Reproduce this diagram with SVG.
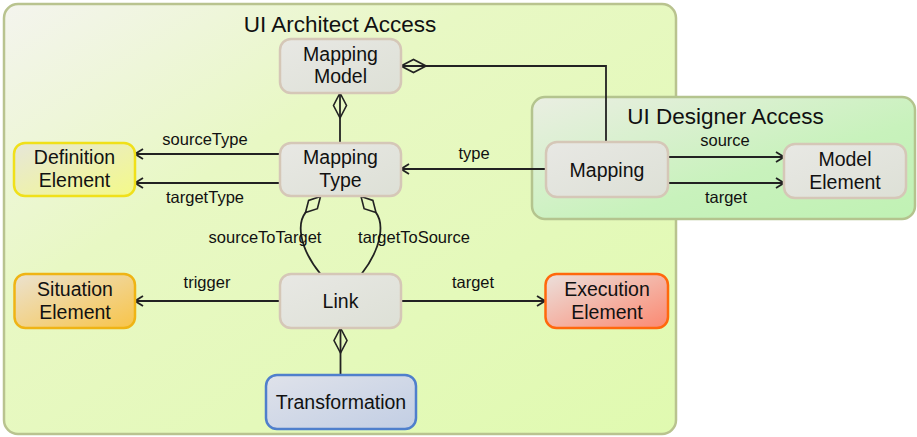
<svg xmlns="http://www.w3.org/2000/svg" width="917" height="437" viewBox="0 0 917 437">
<defs>
<linearGradient id="gOuter" x1="0" y1="0" x2="1" y2="1"><stop offset="0" stop-color="#f4f4ee"/><stop offset="0.35" stop-color="#e8f8c4"/><stop offset="1" stop-color="#e0fab0"/></linearGradient>
<linearGradient id="gDesigner" x1="0" y1="0" x2="1" y2="1"><stop offset="0" stop-color="#eaeee2"/><stop offset="0.6" stop-color="#c8f2bc"/><stop offset="1" stop-color="#c0f2b4"/></linearGradient>
<linearGradient id="gGray" x1="0" y1="0" x2="1" y2="1"><stop offset="0" stop-color="#e8e8e4"/><stop offset="1" stop-color="#dde0d6"/></linearGradient>
<linearGradient id="gYellow" x1="0" y1="0" x2="1" y2="1"><stop offset="0" stop-color="#e6e6da"/><stop offset="1" stop-color="#f4fa88"/></linearGradient>
<linearGradient id="gOrange" x1="0" y1="0" x2="1" y2="1"><stop offset="0" stop-color="#ebe2d0"/><stop offset="1" stop-color="#f8c448"/></linearGradient>
<linearGradient id="gRed" x1="0" y1="0" x2="1" y2="1"><stop offset="0" stop-color="#ebe0dc"/><stop offset="1" stop-color="#fc8870"/></linearGradient>
<linearGradient id="gBlue" x1="0" y1="0" x2="1" y2="1"><stop offset="0" stop-color="#dfe2ea"/><stop offset="1" stop-color="#c2cee4"/></linearGradient>
<marker id="arrow" viewBox="0 0 10 12" refX="9" refY="6" markerWidth="10" markerHeight="12" markerUnits="userSpaceOnUse" orient="auto">
<path d="M1,1 L9,6 L1,11" fill="none" stroke="#222" stroke-width="1.8"/>
</marker>
<marker id="diamond" viewBox="0 0 26 16" refX="25.5" refY="8" markerWidth="26" markerHeight="16" markerUnits="userSpaceOnUse" orient="auto-start-reverse">
<path d="M0.5,8 L13,1.5 L25.5,8 L13,14.5 Z" fill="none" stroke="#222" stroke-width="1.6"/>
</marker>
</defs>
<style>
.cont{stroke-width:2.5}
.node{stroke-width:2.5}
.gray{fill:url(#gGray);stroke:#d5c7b7}
.ntext{font-family:"Liberation Sans",Arial,sans-serif;font-size:19.5px;fill:#111;text-anchor:middle}
.title{font-family:"Liberation Sans",Arial,sans-serif;font-size:22.5px;fill:#111;text-anchor:middle}
.lbl{font-family:"Liberation Sans",Arial,sans-serif;font-size:16.5px;fill:#111;text-anchor:middle}
.edge{fill:none;stroke:#222;stroke-width:1.8}
.dia{fill:none;stroke:#222;stroke-width:1.6}
</style>

<g id="ui-architect-access">
<rect class="cont" x="4" y="4" width="672" height="430" rx="14" fill="url(#gOuter)" stroke="#b9c38f"/>
<text class="title" x="340" y="32">UI Architect Access</text>
</g>
<g id="ui-designer-access">
<rect class="cont" x="532" y="97" width="383" height="122" rx="13" fill="url(#gDesigner)" stroke="#b4c48e"/>
<text class="title" x="725.5" y="124">UI Designer Access</text>
</g>

<g id="connectors">
<path id="e-model-type" class="edge" d="M340,143 L340,93" marker-end="url(#diamond)"/>
<path id="e-model-mapping" class="edge" d="M606,142 L606,66 L401,66" marker-end="url(#diamond)"/>
<path id="e-sourceType" class="edge" d="M280,154 L135,154" marker-end="url(#arrow)"/>
<path id="e-targetType" class="edge" d="M280,183 L135,183" marker-end="url(#arrow)"/>
<path id="e-type" class="edge" d="M546,169 L401,169" marker-end="url(#arrow)"/>
<path id="e-source" class="edge" d="M668,157 L784,157" marker-end="url(#arrow)"/>
<path id="e-target" class="edge" d="M668,183 L784,183" marker-end="url(#arrow)"/>
<polygon class="dia" points="0,0 11,-6 22,0 11,6" transform="translate(320.5,196.5) rotate(133)"/>
<path id="e-sourceToTarget" class="edge" d="M305.5,212.6 C298,222 297,245 320.5,274"/>
<polygon class="dia" points="0,0 11,-6 22,0 11,6" transform="translate(361,196.5) rotate(47)"/>
<path id="e-targetToSource" class="edge" d="M376,212.6 C383,222 384,245 361.5,274"/>
<path id="e-trigger" class="edge" d="M280,301 L135,301" marker-end="url(#arrow)"/>
<path id="e-exec" class="edge" d="M401,301 L545,301" marker-end="url(#arrow)"/>
<path id="e-link-transf" class="edge" d="M340.5,375 L340.5,328" marker-end="url(#diamond)"/>
<text class="lbl" x="205" y="145">sourceType</text>
<text class="lbl" x="205" y="203">targetType</text>
<text class="lbl" x="474" y="159">type</text>
<text class="lbl" x="725" y="146">source</text>
<text class="lbl" x="726" y="203">target</text>
<text class="lbl" x="265" y="243">sourceToTarget</text>
<text class="lbl" x="414" y="243">targetToSource</text>
<text class="lbl" x="207" y="288">trigger</text>
<text class="lbl" x="473" y="288">target</text>
</g>

<g id="mapping-model">
<rect class="node gray" x="280" y="39" width="121" height="54" rx="11"/>
<text class="ntext" x="340.5" y="61">Mapping</text>
<text class="ntext" x="340.5" y="83">Model</text>
</g>
<g id="mapping-type">
<rect class="node gray" x="280" y="143" width="121" height="53" rx="11"/>
<text class="ntext" x="340.5" y="164">Mapping</text>
<text class="ntext" x="340.5" y="187">Type</text>
</g>
<g id="definition-element">
<rect class="node" x="14" y="143" width="121" height="53" rx="11" fill="url(#gYellow)" stroke="#f0e01a"/>
<text class="ntext" x="74.5" y="164">Definition</text>
<text class="ntext" x="74.5" y="187">Element</text>
</g>
<g id="mapping">
<rect class="node gray" x="546" y="142" width="122" height="55" rx="11"/>
<text class="ntext" x="607" y="177">Mapping</text>
</g>
<g id="model-element">
<rect class="node gray" x="784" y="144" width="122" height="54" rx="11"/>
<text class="ntext" x="845" y="166">Model</text>
<text class="ntext" x="845" y="189">Element</text>
</g>
<g id="situation-element">
<rect class="node" x="14.5" y="274" width="120.5" height="54" rx="11" fill="url(#gOrange)" stroke="#efb414"/>
<text class="ntext" x="75" y="296">Situation</text>
<text class="ntext" x="75" y="319">Element</text>
</g>
<g id="link">
<rect class="node gray" x="280" y="274" width="121" height="54" rx="11"/>
<text class="ntext" x="340.5" y="308">Link</text>
</g>
<g id="execution-element">
<rect class="node" x="545.5" y="274" width="122.5" height="54" rx="11" fill="url(#gRed)" stroke="#ff680c"/>
<text class="ntext" x="607" y="296">Execution</text>
<text class="ntext" x="607" y="319">Element</text>
</g>
<g id="transformation">
<rect class="node" x="266" y="375" width="150" height="54" rx="11" fill="url(#gBlue)" stroke="#4f7fcc"/>
<text class="ntext" x="341" y="409">Transformation</text>
</g>
</svg>
